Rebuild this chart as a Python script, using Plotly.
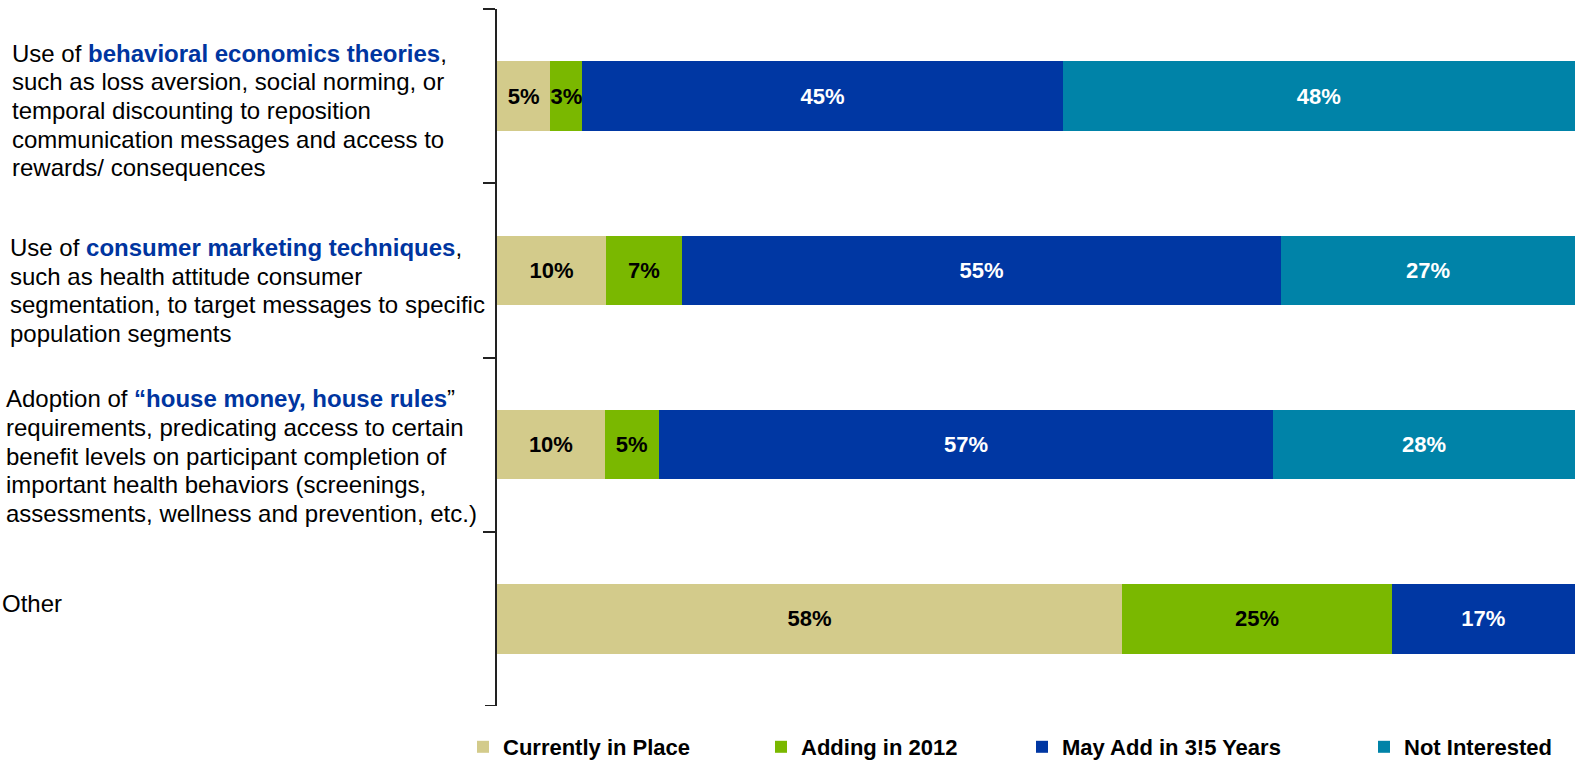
import plotly.graph_objects as go

# Survey categories, one list of text lines per category (rich text for the highlighted phrase)
BLUE_TXT = "#0035A0"
category_lines = [
    ["Use of <b><span style='color:%s'>behavioral economics theories</span></b>," % BLUE_TXT,
     "such as loss aversion, social norming, or",
     "temporal discounting to reposition",
     "communication messages and access to",
     "rewards/ consequences"],
    ["Use of <b><span style='color:%s'>consumer marketing techniques</span></b>," % BLUE_TXT,
     "such as health attitude consumer",
     "segmentation, to target messages to specific",
     "population segments"],
    ["Adoption of <b><span style='color:%s'>\u201chouse money, house rules</span></b>\u201d" % BLUE_TXT,
     "requirements, predicating access to certain",
     "benefit levels on participant completion of",
     "important health behaviors (screenings,",
     "assessments, wellness and prevention, etc.)"],
    ["Other"],
]
categories = ["<br>".join(lines) for lines in category_lines]

# Share of respondents (%) per status
currently_in_place = [5, 10, 10, 58]
adding_in_2012 = [3, 7, 5, 25]
may_add_3_5_years = [45, 55, 57, 17]
not_interested = [48, 27, 28, None]

series_names = ["Currently in Place", "Adding in 2012", "May Add in 3!5 Years", "Not Interested"]
series_values = [currently_in_place, adding_in_2012, may_add_3_5_years, not_interested]
series_colors = ["#D3CB8B", "#7AB800", "#0037A3", "#0083A8"]
label_colors = ["#000000", "#000000", "#FFFFFF", "#FFFFFF"]

# Plot-area geometry (pixels)
W, H = 1575, 768
L, R, T, B = 497, 0, 9, 62
PW, PH = W - L - R, H - T - B

TEXT_FONT = "Liberation Sans, Arial, sans-serif"
AXIS_COLOR = "#222222"

fig = go.Figure()
legend_ids = ["legend", "legend2", "legend3", "legend4"]
for name, vals, color, lcol, lid in zip(series_names, series_values, series_colors,
                                        label_colors, legend_ids):
    fig.add_trace(go.Bar(
        name=name,
        y=categories,
        x=vals,
        orientation="h",
        marker=dict(color=color, line=dict(width=0)),
        text=["" if v is None else f"{v}%" for v in vals],
        textposition="inside",
        insidetextanchor="middle",
        textangle=0,
        constraintext="none",
        textfont=dict(family=TEXT_FONT, size=22, color=lcol, weight="bold"),
        width=0.4,
        legend=lid,
        hoverinfo="skip",
    ))

# Category text blocks on the left, one annotation per line
line_step = 28.7
first_line_offset = [-43, -23, -46, -15]   # px from bar centre to first line centre
left_px = [10, 8, 4, 0]
for cat, lines, off, lx in zip(categories, category_lines, first_line_offset, left_px):
    for i, line in enumerate(lines):
        fig.add_annotation(
            x=(lx - L) / PW, xref="paper", xanchor="left",
            y=cat, yref="y", yanchor="middle",
            yshift=-(off + i * line_step),
            text=line, showarrow=False, align="left",
            font=dict(family=TEXT_FONT, size=24, color="#000000"),
        )

# Closing tick at the bottom end of the category axis
fig.add_shape(type="line", xref="paper", yref="y",
              x0=-12 / PW, x1=0, y0=len(categories) - 0.5, y1=len(categories) - 0.5,
              line=dict(color=AXIS_COLOR, width=2))

# One legend per series so each entry sits at its own horizontal position
legend_text_px = [503, 801, 1062, 1404]
legend_common = dict(
    orientation="h", yref="container", yanchor="bottom", y=0.0,
    xanchor="left", bgcolor="rgba(0,0,0,0)", borderwidth=0,
    font=dict(family=TEXT_FONT, size=22, color="#000000", weight="bold"),
    itemwidth=30, itemclick=False, itemdoubleclick=False,
)
legends = {}
for lid, tx in zip(legend_ids, legend_text_px):
    legends[lid] = dict(legend_common, x=(tx - 40 - L) / PW)

fig.update_layout(
    width=W, height=H,
    margin=dict(l=L, r=R, t=T, b=B, pad=0, autoexpand=False),
    barmode="stack",
    barnorm="percent",
    plot_bgcolor="white",
    paper_bgcolor="white",
    showlegend=True,
    xaxis=dict(range=[0, 100], visible=False, fixedrange=True),
    yaxis=dict(
        categoryorder="array", categoryarray=categories,
        range=[len(categories) - 0.5, -0.5],
        showticklabels=False, showgrid=False, zeroline=False,
        showline=True, linecolor=AXIS_COLOR, linewidth=2,
        ticks="outside", tickson="boundaries", ticklen=12, tickwidth=2, tickcolor=AXIS_COLOR,
        fixedrange=True,
    ),
    **legends,
)

fig.write_html("out.html", config={"displayModeBar": False})
